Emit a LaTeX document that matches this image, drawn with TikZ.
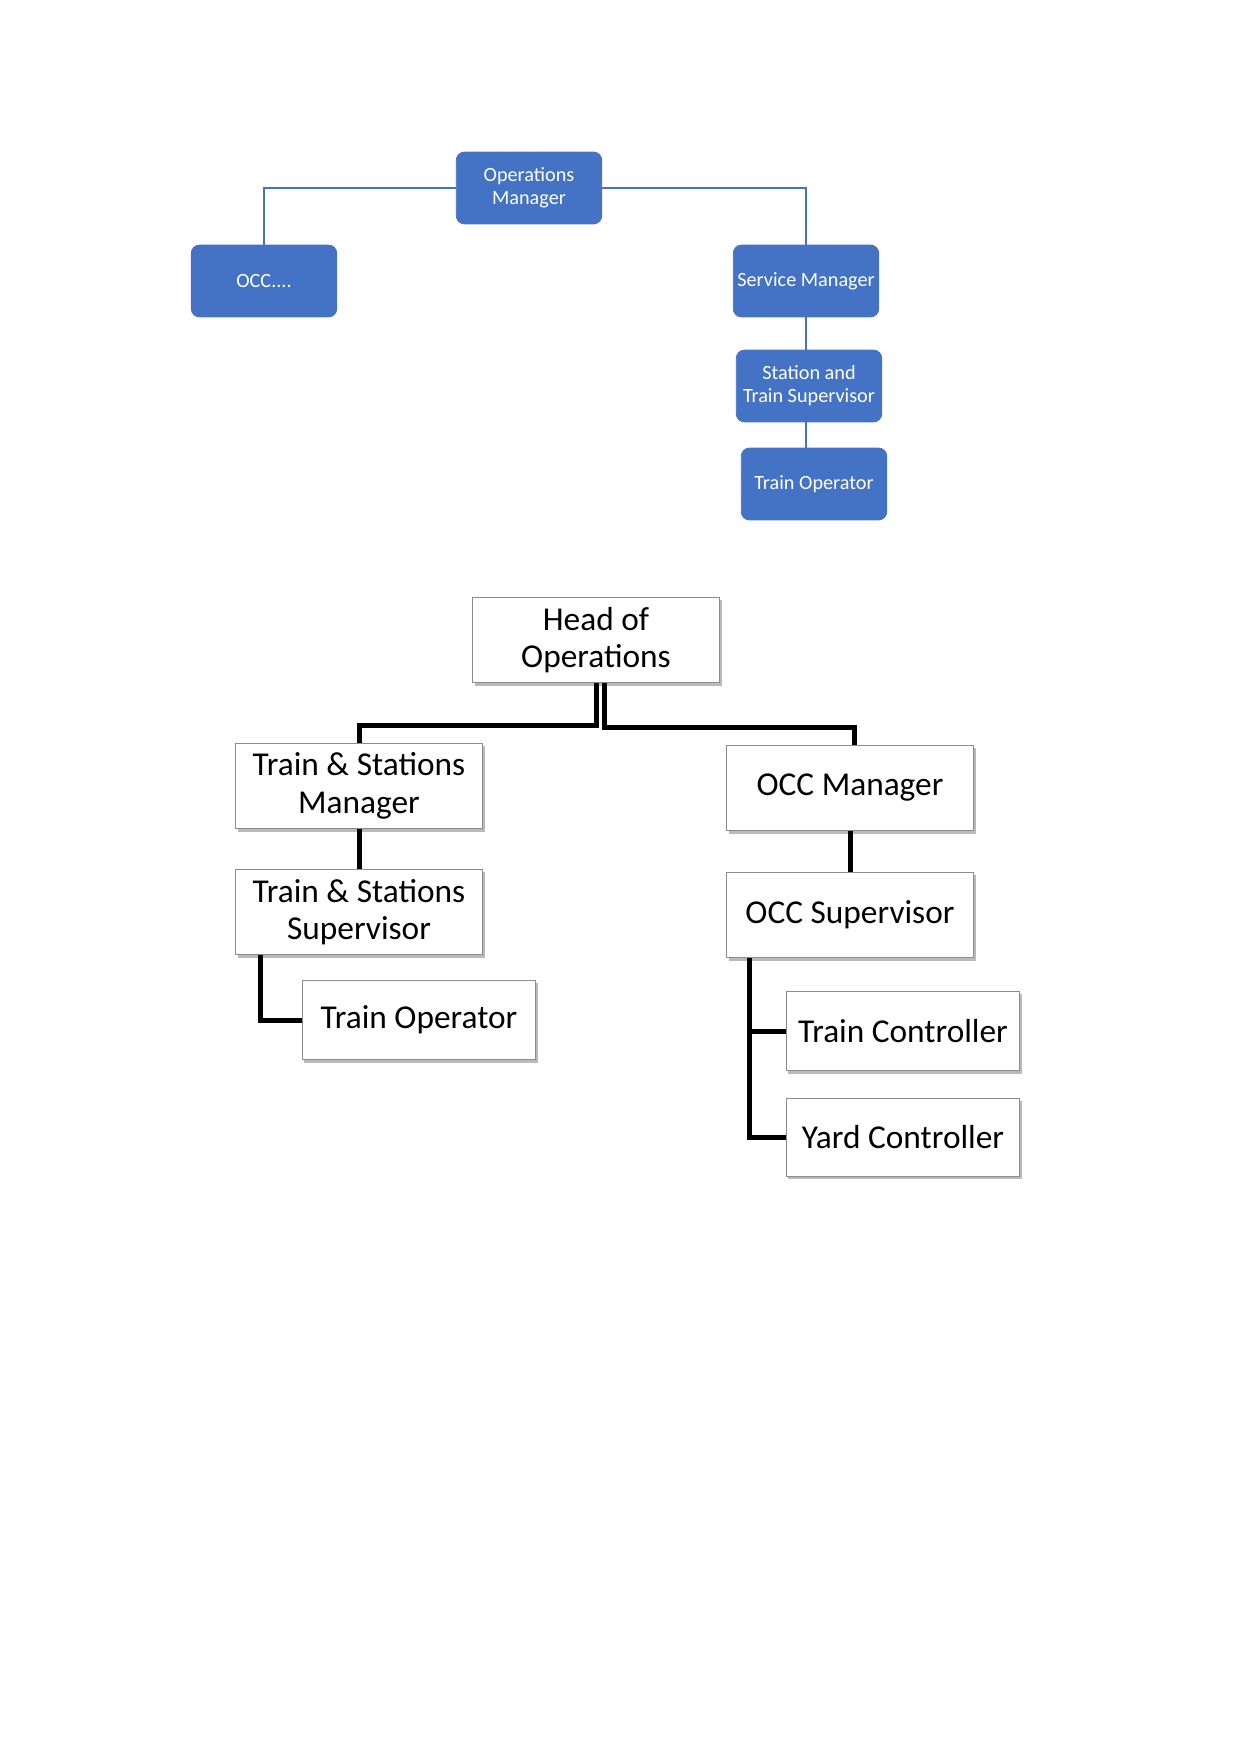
\documentclass[tikz,border=0pt]{standalone}
\usepackage{fontspec}
\setmainfont{Carlito}
\usepackage{xcolor}
\usetikzlibrary{positioning, shadows}

\definecolor{boxblue}{HTML}{4472C4}

\tikzset{
  bluebox/.style={draw=boxblue, fill=boxblue, rounded corners=4pt, text=white,
    minimum width=69.8pt, minimum height=34.5pt, align=center, inner sep=1pt,
    font=\fontsize{9.7}{11}\selectfont},
  bluelink/.style={draw=boxblue, line width=0.8pt},
  whitebox/.style={draw=black!45, fill=white, minimum width=118.5pt, minimum height=41pt,
    align=center, inner sep=1pt, font=\fontsize{16}{18}\selectfont,
    drop shadow={shadow xshift=1pt, shadow yshift=-1.5pt, fill=black!45, opacity=0.6}},
  blacklink/.style={draw=black, line width=2.4pt}
}

\begin{document}
\begin{tikzpicture}[x=0.4797pt, y=-0.4797pt]
\useasboundingbox (0,0) rectangle (1241,1754);

% top chart
\node[bluebox] (ops) at (529,188) {Operations\\Manager};
\node[bluebox] (occ) at (264,281) {OCC....};
\node[bluebox] (svc) at (806,281) {Service Manager};
\node[bluebox] (sts) at (809,386) {Station and\\Train Supervisor};
\node[bluebox] (trop) at (814,484) {Train Operator};

\draw[bluelink] (ops.west) -| (occ.north);
\draw[bluelink] (ops.east) -| (svc.north);
\draw[bluelink] (svc.south) -- (svc.south |- sts.north);
\draw[bluelink] (svc.south |- sts.south) -- (svc.south |- trop.north);

% bottom chart
\node[whitebox] (head) at (596,640) {Head of\\Operations};
\node[whitebox] (tsm) at (359,786) {Train \& Stations\\Manager};
\node[whitebox] (occm) at (850,788) {OCC Manager};
\node[whitebox] (tss) at (359,912) {Train \& Stations\\Supervisor};
\node[whitebox] (occs) at (850,915) {OCC Supervisor};
\node[whitebox, minimum width=112pt, minimum height=38.2pt] (op) at (419,1020) {Train Operator};
\node[whitebox, minimum width=112pt, minimum height=38.2pt] (tc) at (903,1031) {Train Controller};
\node[whitebox, minimum width=112pt, minimum height=37.4pt] (yc) at (903,1137) {Yard Controller};

\coordinate (hl) at (596,725);
\coordinate (hr) at (604,727);
\coordinate (ocd) at (854,0);
\draw[blacklink] (head.south) -- (hl) -| (tsm.north);
\draw[blacklink] (head.south -| hr) -- (hr) -| (occm.north -| ocd);
\draw[blacklink] (tsm.south) -- (tss.north);
\draw[blacklink] (occm.south) -- (occs.north);

\coordinate (tsb) at (260,0);
\draw[blacklink] (tss.south -| tsb) |- (op.west);
\coordinate (ocb) at (749,0);
\draw[blacklink] (occs.south -| ocb) |- (yc.west);
\draw[blacklink] (ocb |- tc.west) -- (tc.west);

\end{tikzpicture}
\end{document}
